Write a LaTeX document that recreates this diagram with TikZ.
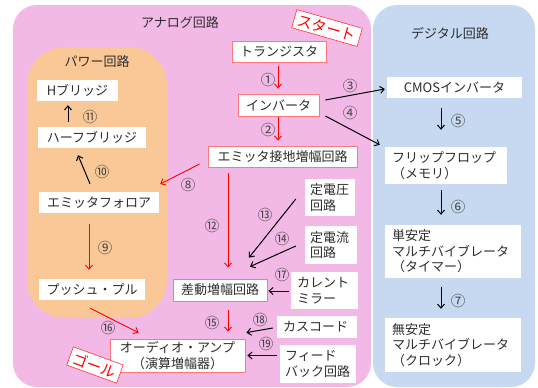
\documentclass[tikz,border=0pt]{standalone}
\usepackage{fontspec}
\setmainfont{Noto Sans CJK JP}
\usetikzlibrary{arrows.meta,calc}
\definecolor{pinkbg}{RGB}{242,184,230}
\definecolor{orangebg}{RGB}{250,200,150}
\definecolor{bluebg}{RGB}{198,217,240}
\definecolor{boxred}{RGB}{255,120,125}
\definecolor{txt}{RGB}{45,45,45}
\definecolor{numc}{RGB}{70,70,70}
\begin{document}
\begin{tikzpicture}[x=1pt,y=-1pt,
  box/.style={fill=white, draw=none, inner sep=0pt, text=txt, font=\fontsize{13}{15.5}\selectfont},
  rbox/.style={box, draw=boxred, line width=0.8pt},
  lbox/.style={box, align=left, inner xsep=6pt},
  num/.style={text=numc, font=\fontsize{14.5}{15}\selectfont, inner sep=0pt},
  title/.style={text=txt, font=\fontsize{13}{15}\selectfont, inner sep=0pt},
  blk/.style={-{Straight Barb[length=4pt,width=7pt]}, line width=1pt, black},
  redarr/.style={-{Straight Barb[length=4pt,width=7pt]}, line width=0.9pt, red},
  tag/.style={fill=white, draw=red!80!white, line width=0.6pt, text=red, font=\fontsize{15}{15}\selectfont, inner xsep=4pt, inner ysep=3pt}
]
\useasboundingbox (0,0) rectangle (538,388);
% regions
\fill[pinkbg, rounded corners=24pt] (13,5) rectangle (371,387);
\fill[bluebg, rounded corners=24pt] (373,5) rectangle (535,387);
\fill[orangebg, rounded corners=38pt] (27,47) rectangle (167,318);
\node[title] (tanalog) at (180,23) {アナログ回路};
\node[title] (tpower) at (97,62) {パワー回路};
\node[title] (tdigital) at (450,33) {デジタル回路};

% power boxes
\node[box, minimum width=81pt, minimum height=21pt] (hb) at (77.5,90.5) {Hブリッジ};
\node[box, minimum width=108pt, minimum height=21pt] (half) at (92,137.5) {ハーフブリッジ};
\node[box, minimum width=120pt, minimum height=21pt] (ef) at (99,202.5) {エミッタフォロア};
\node[box, minimum width=106pt, minimum height=21pt] (pp) at (92,289.5) {プッシュ・プル};

% analog main chain
\node[rbox, minimum width=94pt, minimum height=21pt] (trans) at (279,51.5) {トランジスタ};
\node[rbox, minimum width=81pt, minimum height=22pt] (inv) at (278.5,105) {インバータ};
\node[rbox, minimum width=149pt, minimum height=21pt] (emit) at (282.5,156.5) {エミッタ接地増幅回路};
\node[rbox, minimum width=94pt, minimum height=22pt] (diff) at (220,290) {差動増幅回路};
\node[rbox, minimum width=135pt, minimum height=33pt, align=center, font=\fontsize{13}{16}\selectfont] (amp) at (177.5,355.5) {オーディオ・アンプ\\（演算増幅器）};

% side boxes
\node[lbox, text width=40pt, minimum height=37pt, inner xsep=5pt] (vc) at (330,197.5) {定電圧\\回路};
\node[lbox, text width=42pt, minimum height=38pt, inner xsep=5pt] (cc) at (331,245) {定電流\\回路};
\node[lbox, text width=55pt, minimum height=37pt] (cm) at (324.5,290.5) {カレント\\ミラー};
\node[lbox, text width=68pt, minimum height=22pt] (casc) at (317,327) {カスコード};
\node[lbox, text width=66pt, minimum height=38pt, inner xsep=5pt] (fb) at (318,364) {フィード\\バック回路};

% digital boxes
\node[box, minimum width=135pt, minimum height=21pt] (cmos) at (454.5,87.5) {CMOSインバータ};
\node[lbox, text width=108pt, minimum height=37pt, inner xsep=7pt] (ff) at (446,165.5) {フリップフロップ\\（メモリ）};
\node[lbox, text width=122pt, minimum height=53pt, inner xsep=7pt] (mono) at (453,251.5) {単安定\\マルチバイブレータ\\（タイマー）};
\node[lbox, text width=122pt, minimum height=54pt, inner xsep=7pt] (astable) at (453,345) {無安定\\マルチバイブレータ\\（クロック）};

% tags
\node[tag, rotate=-16] (start) at (327,28) {スタート};
\node[tag, rotate=-20] (goal) at (95,365) {ゴール};

% red arrows
\draw[redarr] ($(trans.south)+(-1,4)$) -- ($(inv.north)+(-0.5,-5)$);
\draw[redarr] ($(inv.south)+(-0.5,1)$) -- ($(emit.north)+(-4.5,-5)$);
\draw[redarr] ($(emit.west)+(-8,7.5)$) -- ($(ef.east)+(1,-18.5)$);
\draw[redarr] ($(ef.south)+(-10,11)$) -- ($(pp.north)+(-3,-9)$);
\draw[redarr] ($(emit.south)+(-54.5,6)$) -- ($(diff.north)+(8,-11)$);
\draw[redarr] ($(diff.south)+(8,9)$) -- ($(amp.north)+(50.5,-7)$);
\draw[redarr] ($(pp.south)+(-2,8)$) -- ($(amp.north west)+(29,-6)$);

% black arrows
\draw[blk] ($(ef.north)+(-9,-8)$) -- ($(half.south)+(-14,7)$);
\draw[blk] ($(half.north)+(-24,-5)$) -- ($(hb.south)+(-9.5,4)$);
\draw[blk] ($(inv.east)+(6,-5)$) -- ($(cmos.west)+(-2,1.5)$);
\draw[blk] ($(inv.east)+(6,11)$) -- ($(ff.north west)+(-5,-2)$);
\draw[blk] ($(cmos.south)+(-13.5,10)$) -- ($(ff.north)+(-5,-17)$);
\draw[blk] ($(ff.south)+(-5,6)$) -- ($(mono.north)+(-12,-10)$);
\draw[blk] ($(mono.south)+(-12,9)$) -- ($(astable.north)+(-12,-9)$);
\draw[blk] ($(vc.west)+(-9,1.5)$) -- ($(diff.north)+(29,-21)$);
\draw[blk] ($(cc.west)+(-9,1)$) -- ($(diff.north)+(30,-12)$);
\draw[blk] ($(cm.west)+(-2,0.5)$) -- ($(diff.east)+(1,1)$);
\draw[blk] ($(casc.west)+(-4,1)$) -- ($(amp.north east)+(1,-6)$);
\draw[blk] ($(fb.west)+(-3,-8.5)$) -- ($(amp.east)+(2,0)$);

% numbers
\node[num] (n1) at (268,80) {①};
\node[num] (n2) at (268,130) {②};
\node[num] (n3) at (350,86) {③};
\node[num] (n4) at (350,113) {④};
\node[num] (n5) at (458,121) {⑤};
\node[num] (n6) at (458,207) {⑥};
\node[num] (n7) at (458,301) {⑦};
\node[num] (n8) at (188,185) {⑧};
\node[num] (n9) at (105,248) {⑨};
\node[num] (n10) at (102,172) {⑩};
\node[num] (n11) at (90,117) {⑪};
\node[num] (n12) at (212,226) {⑫};
\node[num] (n13) at (265,215) {⑬};
\node[num] (n14) at (282,239) {⑭};
\node[num] (n15) at (212,323) {⑮};
\node[num] (n16) at (108,328) {⑯};
\node[num] (n17) at (282,275) {⑰};
\node[num] (n18) at (260,320) {⑱};
\node[num] (n19) at (266,344) {⑲};
\end{tikzpicture}
\end{document}
